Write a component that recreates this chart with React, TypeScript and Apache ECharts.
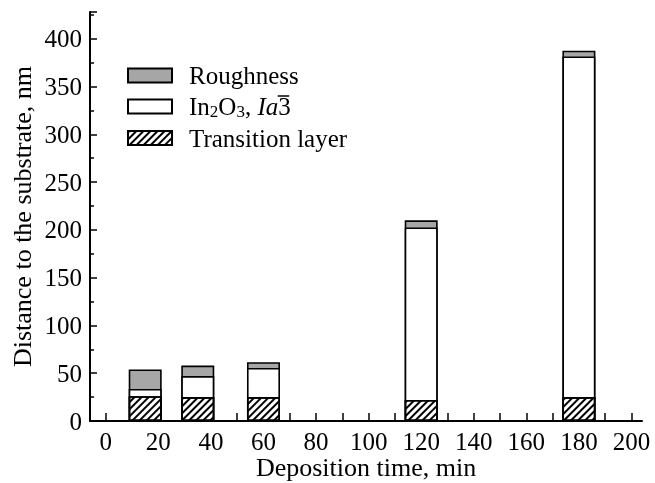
import React, { useEffect, useRef } from "react";
import * as echarts from "echarts";

const depositionTimes = [15, 35, 60, 120, 180];
const transitionLayer = [26, 25, 25, 22, 25];
const in2o3Layer = [7.5, 22, 30.5, 180.5, 356.5];
const roughness = [20.5, 11, 6, 7.5, 6];
const xTickValues = [0, 10, 20, 30, 40, 50, 60, 70, 80, 90, 100, 110, 120, 130, 140, 150, 160, 170, 180, 190, 200];
const xLabelValues = [0, 20, 40, 60, 80, 100, 120, 140, 160, 180, 200];

const FONT = "Liberation Serif";
const LEG_FS = 25;
const SUB_FS = 17;

function measure(text: string, size: number, italic = false): number {
  const c = document.createElement("canvas");
  const ctx = c.getContext("2d");
  if (!ctx) return text.length * size * 0.5;
  ctx.font = (italic ? "italic " : "") + size + "px \"" + FONT + "\"";
  return ctx.measureText(text).width;
}

export default function App() {
  const ref = useRef<HTMLDivElement>(null);
  useEffect(() => {
    if (!ref.current) return;
    const chart = echarts.init(ref.current, undefined, { renderer: "svg" });
    // bars are drawn overlapping from 0 up to the cumulative top of each layer
    const cumIn2o3 = transitionLayer.map((v, i) => v + in2o3Layer[i]);
    const cumTotal = cumIn2o3.map((v, i) => v + roughness[i]);
    const pair = (vals: number[]) => depositionTimes.map((t, i) => [t, vals[i]]);
    const border = { borderColor: "#000", borderWidth: 1.6 };

    const legLeft = 122;
    const textStart = legLeft + 5 + 44 + 5 + 12;
    const before =
      measure("In", LEG_FS) + measure("2", SUB_FS) + measure("O", LEG_FS) + measure("3", SUB_FS) +
      measure(", ", LEG_FS) + measure("Ia", LEG_FS, true);
    const threeW = measure("3", LEG_FS);
    const ox1 = textStart + before + 0.5;
    const ox2 = ox1 + threeW - 1;

    chart.setOption({
      animation: false,
      textStyle: { fontFamily: FONT, color: "#000" },
      grid: { left: 90, right: 13, top: 12, bottom: 62, containLabel: false, outerBoundsMode: "none" },
      legend: {
        orient: "vertical",
        left: legLeft,
        top: 58,
        icon: "rect",
        itemWidth: 44,
        itemHeight: 14,
        itemGap: 6,
        data: ["Roughness", "In2O3", "Transition layer"],
        formatter: (name: string) =>
          name === "In2O3" ? "{n|In}{s|2}{n|O}{s|3}{n|, }{i|Ia}{n|3}" : "{n|" + name + "}",
        textStyle: {
          fontFamily: FONT,
          fontSize: LEG_FS,
          color: "#000",
          padding: [0, 0, 0, 12],
          rich: {
            n: { fontFamily: FONT, fontSize: LEG_FS, color: "#000", lineHeight: 26 },
            s: { fontFamily: FONT, fontSize: SUB_FS, color: "#000", lineHeight: 12, verticalAlign: "bottom" },
            i: { fontFamily: FONT, fontSize: LEG_FS, fontStyle: "italic", color: "#000", lineHeight: 26 },
          },
        },
      },
      xAxis: {
        type: "value",
        min: -6,
        max: 204,
        name: "Deposition time, min",
        nameLocation: "middle",
        nameGap: 33,
        nameMoveOverlap: false,
        nameTextStyle: { fontFamily: FONT, fontSize: 26, color: "#000" },
        axisLine: { show: true, onZero: false, lineStyle: { color: "#000", width: 2 } },
        axisTick: { show: true, inside: true, length: 8, customValues: xTickValues, lineStyle: { color: "#000", width: 1.5 } },
        axisLabel: { customValues: xLabelValues, fontFamily: FONT, fontSize: 25, color: "#000", margin: 8 },
        splitLine: { show: false },
      },
      yAxis: {
        type: "value",
        min: 0,
        max: 428,
        interval: 50,
        name: "Distance to the substrate, nm",
        nameLocation: "middle",
        nameGap: 55,
        nameMoveOverlap: false,
        nameTextStyle: { fontFamily: FONT, fontSize: 26, color: "#000" },
        axisLine: { show: true, onZero: false, lineStyle: { color: "#000", width: 2 } },
        axisTick: { show: true, inside: true, length: 7, lineStyle: { color: "#000", width: 1.5 } },
        minorTick: { show: true, splitNumber: 2, length: 4, lineStyle: { color: "#000", width: 1.5 } },
        axisLabel: { fontFamily: FONT, fontSize: 25, color: "#000", margin: 8, showMaxLabel: false },
        splitLine: { show: false },
      },
      series: [
        {
          name: "Roughness",
          type: "bar",
          barWidth: 33,
          barGap: "-100%",
          data: pair(cumTotal),
          itemStyle: { color: "#a6a6a6", ...border },
        },
        {
          name: "In2O3",
          type: "bar",
          barWidth: 33,
          barGap: "-100%",
          data: pair(cumIn2o3),
          itemStyle: { color: "#fff", ...border },
        },
        {
          name: "Transition layer",
          type: "bar",
          barWidth: 33,
          barGap: "-100%",
          data: pair(transitionLayer),
          itemStyle: {
            color: "#fff",
            ...border,
            decal: {
              symbol: "rect",
              symbolSize: 1,
              color: "#000",
              dashArrayX: [1, 0],
              dashArrayY: [1.4, 2.6],
              rotation: -Math.PI / 4,
            },
          },
        },
      ],
      graphic: [
        {
          type: "line",
          shape: { x1: ox1, y1: 96, x2: ox2, y2: 96 },
          style: { stroke: "#000", lineWidth: 1.5 },
          z: 100,
        },
      ],
    });
    return () => chart.dispose();
  }, []);
  return <div ref={ref} style={{ position: "fixed", left: 0, top: 0, width: 655, height: 483 }} />;
}
